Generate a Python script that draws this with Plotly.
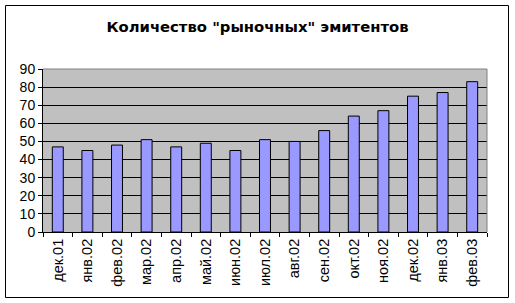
import plotly.graph_objects as go

months = ["дек.01", "янв.02", "фев.02", "мар.02", "апр.02", "май.02", "июн.02", "июл.02",
          "авг.02", "сен.02", "окт.02", "ноя.02", "дек.02", "янв.03", "фев.03"]
counts = [47, 45, 48, 51, 47, 49, 45, 51, 50, 56, 64, 67, 75, 77, 83]
y_ticks = [0, 10, 20, 30, 40, 50, 60, 70, 80, 90]

W, H = 515, 303
L, R, T, B = 43, 28, 69, 71
pw, ph = W - L - R, H - T - B

def px_x(x):
    return (x - L) / pw

def px_y(y):
    return (H - B - y) / ph

fig = go.Figure(go.Bar(
    x=months, y=counts,
    marker=dict(color="#9999FF", line=dict(color="black", width=1)),
    width=0.37,
))

fig.update_layout(
    width=W, height=H,
    margin=dict(l=L, r=R, t=T, b=B),
    paper_bgcolor="white",
    plot_bgcolor="#C0C0C0",
    showlegend=False,
    font=dict(family="Liberation Sans, Arial, sans-serif", size=14, color="black"),
    title=dict(text="<b>Количество \"рыночных\" эмитентов</b>",
               x=0.5, xanchor="center", xref="container",
               y=1 - 27 / H, yanchor="middle", yref="container",
               font=dict(family="DejaVu Sans, Verdana, sans-serif", size=14.8, color="black")),
    xaxis=dict(
        type="category", tickangle=-90, showline=True, linecolor="black", linewidth=1,
        ticks="outside", ticklen=4, tickcolor="black", tickson="boundaries",
        showgrid=False, tickfont=dict(size=14.5),
    ),
    yaxis=dict(
        range=[0, 90], tickvals=y_ticks, showline=True, linecolor="black", linewidth=1,
        ticks="outside", ticklen=4, tickcolor="black",
        showgrid=True, gridcolor="black", gridwidth=1, zeroline=False,
        tickfont=dict(size=14),
    ),
    bargap=0.63,
    shapes=[
        dict(type="line", xref="paper", yref="paper", x0=0, x1=1, y0=1, y1=1,
             line=dict(color="#808080", width=1), layer="above"),
        dict(type="line", xref="paper", yref="paper", x0=1, x1=1, y0=0, y1=1,
             line=dict(color="#808080", width=1), layer="above"),
        dict(type="rect", xref="paper", yref="paper",
             x0=px_x(5.5), x1=px_x(508.5), y0=px_y(297.5), y1=px_y(5.5),
             line=dict(color="black", width=1), fillcolor="rgba(0,0,0,0)", layer="above"),
    ],
)

fig.write_html("out.html")
